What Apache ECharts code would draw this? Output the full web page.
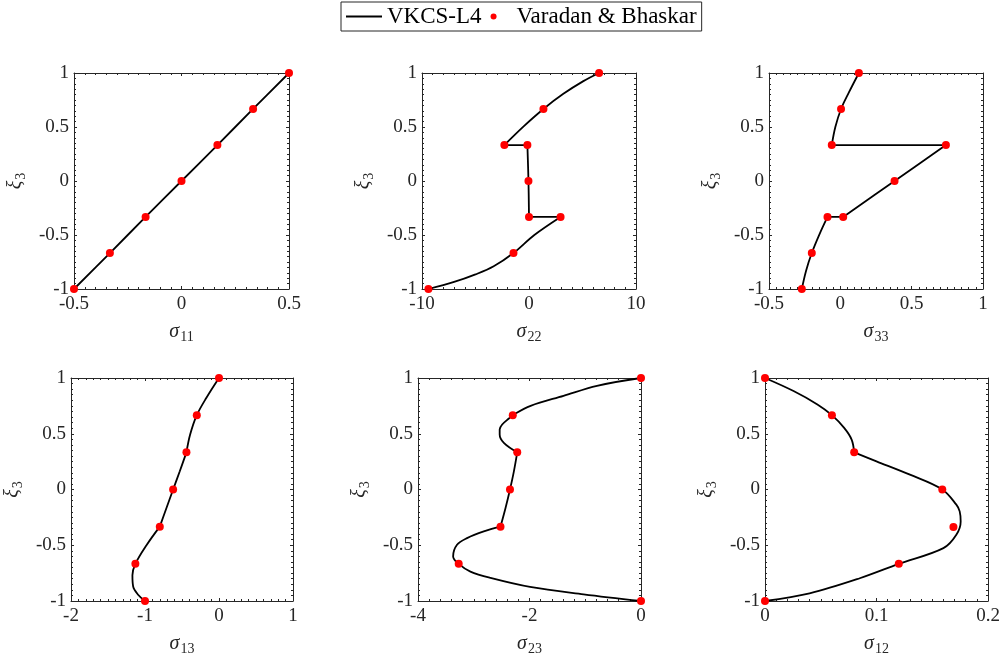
<!DOCTYPE html>
<html><head><meta charset="utf-8">
<script src="https://cdn.jsdelivr.net/npm/echarts@6/dist/echarts.min.js"></script>
<style>html,body{margin:0;padding:0;background:#fff}#c{width:1005px;height:663px}</style>
</head><body><div id="c"></div><script>
// ---- data ----
const subNames = ['11', '22', '33', '13', '23', '12'];
const xMin = [-0.5, -10, -0.5, -2, -4, 0];
const xMax = [0.5, 10, 1, 1, 0, 0.2];
const xStep = [0.5, 10, 0.5, 1, 2, 0.1];
const yTicks = [-1, -0.5, 0, 0.5, 1];

// Varadan & Bhaskar reference points [sigma, xi3]
const p11 = [[-0.5,-1],[-0.333,-0.667],[-0.167,-0.333],[0,0],[0.167,0.333],[0.333,0.667],[0.5,1]];
const p22 = [[-9.4,-1],[-1.45,-0.667],[2.95,-0.333],[0,-0.333],[-0.05,0],[-0.15,0.333],[-2.3,0.333],[1.35,0.667],[6.55,1]];
const p33 = [[-0.27,-1],[-0.2,-0.667],[-0.09,-0.333],[0.02,-0.333],[0.38,0],[0.74,0.333],[-0.06,0.333],[0.005,0.667],[0.13,1]];
const p13 = [[-1.0,-1],[-1.13,-0.667],[-0.8,-0.333],[-0.62,0],[-0.44,0.333],[-0.3,0.667],[0,1]];
const p23 = [[0,-1],[-3.27,-0.667],[-2.52,-0.333],[-2.35,0],[-2.22,0.333],[-2.3,0.667],[0,1]];
const p12 = [[0,-1],[0.12,-0.667],[0.169,-0.337],[0.159,0],[0.08,0.333],[0.06,0.667],[0,1]];

// VKCS-L4 curves (pieces)
const c11 = [
  [[-0.5,-1],[-0.333,-0.667],[-0.167,-0.333],[0,0],[0.167,0.333],[0.333,0.667],[0.5,1]]
];
const c22 = [
  [[-9.4,-1],[-7,-0.935],[-5,-0.865],[-3.3,-0.79],[-1.45,-0.667],[0.5,-0.5],[2.95,-0.333]],
  [[2.95,-0.333],[0,-0.333]],
  [[0,-0.333],[-0.05,0],[-0.15,0.333]],
  [[-0.15,0.333],[-2.3,0.333]],
  [[-2.3,0.333],[-0.5,0.506],[1.35,0.667],[3.21,0.807],[5.08,0.925],[6.55,1]]
];
const c33 = [
  [[-0.27,-1],[-0.24,-0.83],[-0.2,-0.667],[-0.145,-0.49],[-0.09,-0.333]],
  [[-0.09,-0.333],[0.02,-0.333]],
  [[0.02,-0.333],[0.38,0],[0.74,0.333]],
  [[0.74,0.333],[-0.06,0.333]],
  [[-0.06,0.333],[-0.035,0.5],[0.005,0.667],[0.06,0.82],[0.13,1]]
];
const c13 = [
  [[-1.0,-1],[-1.09,-0.946],[-1.16,-0.87],[-1.17,-0.77],[-1.13,-0.667],[-0.98,-0.5],[-0.8,-0.333]],
  [[-0.8,-0.333],[-0.71,-0.166],[-0.62,0],[-0.53,0.164],[-0.44,0.333]],
  [[-0.44,0.333],[-0.39,0.493],[-0.3,0.667],[-0.17,0.823],[0,1]]
];
const c23 = [
  [[0,-1],[-1.03,-0.94],[-1.99,-0.874],[-2.7,-0.793],[-3.06,-0.736],[-3.27,-0.667],[-3.37,-0.6],[-3.3,-0.496],[-3.12,-0.436],[-2.82,-0.376],[-2.52,-0.333]],
  [[-2.52,-0.333],[-2.43,-0.166],[-2.35,0],[-2.28,0.163],[-2.22,0.333]],
  [[-2.22,0.333],[-2.46,0.418],[-2.535,0.493],[-2.535,0.538],[-2.49,0.583],[-2.37,0.637],[-2.3,0.667],[-1.98,0.75],[-1.39,0.84],[-0.79,0.93],[0,1]]
];
const c12 = [
  [[0,-1],[0.04,-0.931],[0.085,-0.796],[0.12,-0.667],[0.16,-0.526],[0.1716,-0.406],[0.1755,-0.286],[0.1746,-0.196],[0.1716,-0.136],[0.159,0],[0.13,0.133],[0.1,0.253],[0.08,0.333]],
  [[0.08,0.333],[0.0777,0.448],[0.071,0.553],[0.06,0.667],[0.047,0.763],[0.0256,0.883],[0,1]]
];

const allPts = [p11, p22, p33, p13, p23, p12];
const allCurves = [c11, c22, c33, c13, c23, c12];

// ---- layout / style ----
const FONT = 'Liberation Serif';
const AX = '#262626';
const grids = [
  {left: 74, top: 73, width: 215, height: 216},
  {left: 422, top: 73, width: 214, height: 216},
  {left: 769, top: 73, width: 214, height: 216},
  {left: 71, top: 378, width: 222, height: 223},
  {left: 418, top: 378, width: 223, height: 223},
  {left: 765, top: 378, width: 223, height: 223}
];

function baseAxis(gi, isPrimary, isX, position) {
  return {
    type: 'value', gridIndex: gi, position: position,
    min: isX ? xMin[gi] : yTicks[0],
    max: isX ? xMax[gi] : yTicks[yTicks.length - 1],
    interval: isX ? xStep[gi] : 0.5,
    axisLine: {show: true, onZero: false, lineStyle: {color: AX, width: 1}},
    axisTick: {show: true, inside: true, length: 3, lineStyle: {color: AX, width: 1}},
    minorTick: {show: true, splitNumber: 10, length: 2, lineStyle: {color: AX, width: 1}},
    splitLine: {show: false},
    minorSplitLine: {show: false},
    axisLabel: {show: isPrimary, color: AX, fontFamily: FONT, fontSize: 19, margin: isX ? 6 : 5},
    silent: true
  };
}
const richName = {
  a: {fontFamily: FONT, fontStyle: 'italic', fontSize: 20, color: AX, verticalAlign: 'top'},
  b: {fontFamily: FONT, fontSize: 14, color: AX, verticalAlign: 'top', padding: [8, 0, 0, 1]}
};

const xAxes = [], yAxes = [], series = [];
grids.forEach((g, gi) => {
  const xb = baseAxis(gi, true, true, 'bottom');
  xb.name = '{a|σ}{b|' + subNames[gi] + '}';
  xb.nameLocation = 'middle';
  xb.nameGap = 33;
  xb.nameTextStyle = {rich: richName};
  xAxes.push(xb);
  xAxes.push(baseAxis(gi, false, true, 'top'));
  const yl = baseAxis(gi, true, false, 'left');
  yl.name = '{a|ξ}{b|3}';
  yl.nameLocation = 'middle';
  yl.nameGap = 46;
  yl.nameRotate = 90;
  yl.nameTextStyle = {rich: richName};
  yAxes.push(yl);
  yAxes.push(baseAxis(gi, false, false, 'right'));

  allCurves[gi].forEach(cv => {
    series.push({
      type: 'line', name: 'VKCS-L4', xAxisIndex: gi * 2, yAxisIndex: gi * 2,
      data: cv, smooth: 0.35, symbol: 'none', clip: false,
      lineStyle: {color: '#000', width: 1.8}, itemStyle: {color: '#000'},
      z: 3, silent: true, animation: false
    });
  });
  series.push({
    type: 'scatter', name: 'Varadan & Bhaskar', xAxisIndex: gi * 2, yAxisIndex: gi * 2,
    data: allPts[gi], symbol: 'circle', symbolSize: 8, clip: false,
    itemStyle: {color: '#ff0000', opacity: 1}, z: 5, silent: true, animation: false
  });
});

const chart = echarts.init(document.getElementById('c'), null, {renderer: 'canvas'});
chart.setOption({
  animation: false,
  backgroundColor: '#fff',
  grid: grids,
  xAxis: xAxes,
  yAxis: yAxes,
  legend: {
    data: [
      {name: 'VKCS-L4', icon: 'path://M0,0H36V2H0Z', itemStyle: {color: '#000'}},
      {name: 'Varadan & Bhaskar', icon: 'circle', itemStyle: {color: '#ff0000'}}
    ],
    left: 341, top: 2,
    itemWidth: 36, itemHeight: 6, itemGap: 9,
    symbolKeepAspect: true,
    padding: [3, 5, 3, 5],
    borderColor: AX, borderWidth: 1,
    backgroundColor: '#fff',
    textStyle: {fontFamily: FONT, fontSize: 23, color: '#000'},
    selectedMode: false
  },
  series: series
});
</script></body></html>
